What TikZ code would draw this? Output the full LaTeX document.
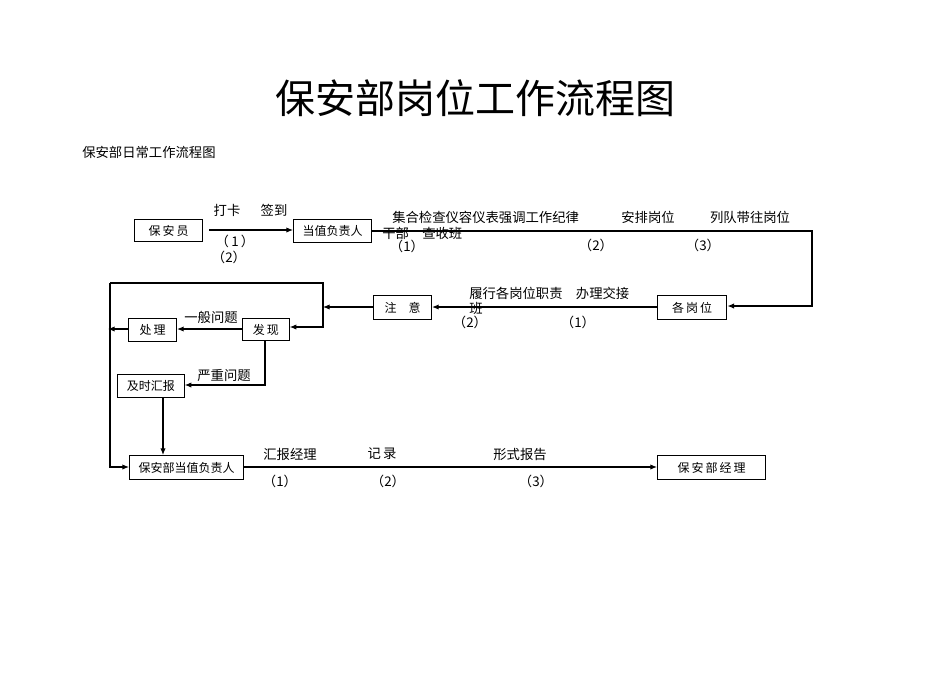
\documentclass[tikz,border=0pt]{standalone}
\usepackage{fontspec}
\setmainfont{Noto Sans CJK SC}
\usetikzlibrary{arrows.meta}
\begin{document}
\begin{tikzpicture}[x=0.75pt,y=-0.75pt,
  bx/.style={draw,thick,anchor=north west,inner sep=0pt,font=\fontsize{9}{10}\selectfont},
  lb/.style={font=\fontsize{10}{11}\selectfont,inner sep=0pt},
  ar/.style={-{Latex[length=5pt,width=4pt]},thick}]
\useasboundingbox (0,0) rectangle (950,672);
\node[font=\fontsize{30}{32}\selectfont] (title) at (475,98) {保安部岗位工作流程图};
\node[lb,anchor=west] (sub) at (82,152) {保安部日常工作流程图};
\node[bx,minimum width=51pt,minimum height=16.5pt] (a) at (134,219) {保\,安\,员};
\node[bx,minimum width=58.5pt,minimum height=17pt] (b) at (293,219) {当值负责人};
\node[bx,minimum width=52pt,minimum height=18pt] (c) at (657,295) {各\,岗\,位};
\node[bx,minimum width=43.5pt,minimum height=18pt] (d) at (373,295) {注\quad 意};
\node[bx,minimum width=35pt,minimum height=16.5pt] (e) at (242,318) {发\,现};
\node[bx,minimum width=36pt,minimum height=17pt] (f) at (128,318) {处\,理};
\node[bx,minimum width=50pt,minimum height=17pt] (g) at (117,374) {及时汇报};
\node[bx,minimum width=85.5pt,minimum height=18pt] (h) at (129,455) {保安部当值负责人};
\node[bx,minimum width=81pt,minimum height=18pt] (i) at (657,455) {保\,安\,部\,经\,理};
\coordinate (j0) at (209,230);
\coordinate (j1) at (812,231);
\coordinate (j2) at (323,283);
\coordinate (j3) at (110,283);
\coordinate (j4) at (108,329);
\draw[ar] (j0) -- (b.west|-j0);
\draw[ar] (b.east|-j1) -- (j1) -- (812,306) -- (c.east|-0,306);
\draw[ar] (c.west|-0,307) -- (d.east|-0,307);
\draw[ar] (d.west|-0,307) -- (323,307);
\draw[ar] (j3) -- (j2) -- (323,327) -- (e.east|-0,327);
\draw[ar] (j3) -- (110,467) -- (h.west|-0,467);
\draw[ar] (e.west|-0,329) -- (f.east|-0,329);
\draw[ar] (f.west|-0,329) -- (j4);
\draw[ar] (265,340) -- (265,385) -- (g.east|-0,385);
\draw[ar] (163,397) -- (163,455);
\draw[ar] (h.east|-0,467) -- (i.west|-0,467);
\node[lb] at (227,210) {打卡}; \node[lb] at (274,210) {签到};
\node[lb] at (235,241) {（\,1\,）}; \node[lb] at (229,257) {（2）};
\node[lb,anchor=west] at (392,217) {集合检查仪容仪表强调工作纪律};
\node[lb] at (648,217) {安排岗位}; \node[lb] at (750,217) {列队带往岗位};
\node[lb,anchor=west] at (382,233) {干部\quad 查收班};
\node[lb] at (407,246) {（1）}; \node[lb] at (596,245) {（2）}; \node[lb] at (703,245) {（3）};
\node[lb,anchor=west] at (469,293) {履行各岗位职责\quad 办理交接};
\node[lb,anchor=west] at (469,308) {班};
\node[lb] at (470,322) {（2）}; \node[lb] at (578,322) {（1）};
\node[lb] at (211,317) {一般问题}; \node[lb] at (224,375) {严重问题};
\node[lb] at (290,454) {汇报经理}; \node[lb] at (382,454) {记\,录}; \node[lb] at (520,454) {形式报告};
\node[lb] at (280,481) {（1）}; \node[lb] at (388,481) {（2）}; \node[lb] at (536,481) {（3）};
\end{tikzpicture}
\end{document}
